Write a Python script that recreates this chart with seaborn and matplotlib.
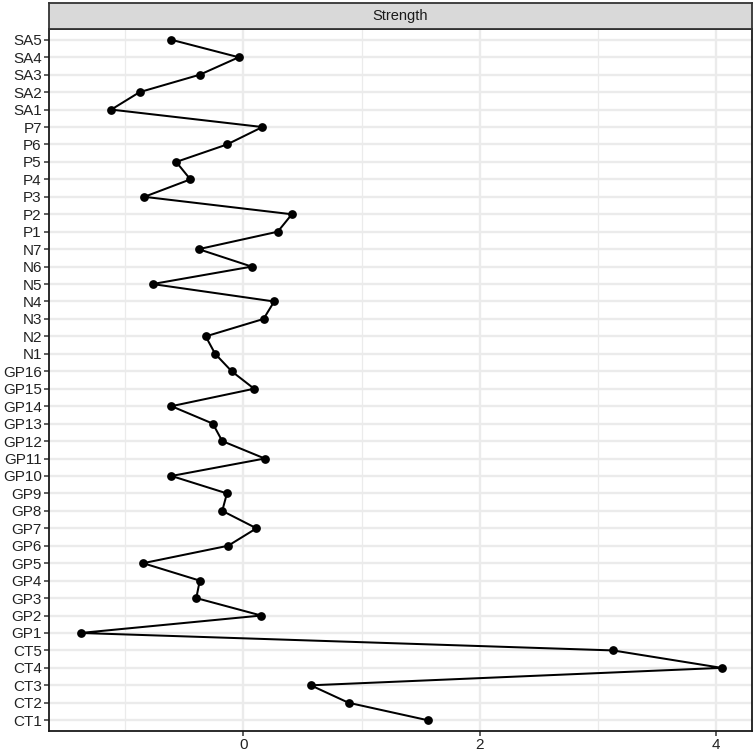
import pandas as pd
import seaborn as sns
import matplotlib.pyplot as plt
from matplotlib.ticker import MultipleLocator

# node names, top to bottom
nodes = ["SA5", "SA4", "SA3", "SA2", "SA1",
         "P7", "P6", "P5", "P4", "P3", "P2", "P1",
         "N7", "N6", "N5", "N4", "N3", "N2", "N1",
         "GP16", "GP15", "GP14", "GP13", "GP12", "GP11", "GP10", "GP9",
         "GP8", "GP7", "GP6", "GP5", "GP4", "GP3", "GP2", "GP1",
         "CT5", "CT4", "CT3", "CT2", "CT1"]

strength = [-0.61, -0.04, -0.37, -0.88, -1.12,
            0.16, -0.14, -0.57, -0.45, -0.84, 0.41, 0.29,
            -0.38, 0.07, -0.77, 0.26, 0.17, -0.32, -0.24,
            -0.10, 0.09, -0.61, -0.26, -0.18, 0.18, -0.61, -0.14,
            -0.18, 0.11, -0.13, -0.85, -0.37, -0.40, 0.15, -1.38,
            3.13, 4.05, 0.57, 0.89, 1.56]

df = pd.DataFrame({"node": nodes, "strength": strength})

sns.set_theme(style="white")
plt.rcParams["font.family"] = ["Liberation Sans", "DejaVu Sans"]

fig = plt.figure(figsize=(7.55, 7.51), dpi=100)
ax = fig.add_axes([0.0645, 0.0266, 0.9319, 0.9348])

sns.pointplot(data=df, x="strength", y="node", order=nodes, color="black",
              markersize=5.2, linewidth=1.45, errorbar=None, ax=ax)

ax.set_xlim(-1.65, 4.31)
ax.set_ylim(len(nodes) - 1 + 0.62, -0.62)
ax.xaxis.set_major_locator(MultipleLocator(2))
ax.xaxis.set_minor_locator(MultipleLocator(1))
ax.set_axisbelow(True)
ax.grid(which="major", color="#EBEBEB", linewidth=1.7)
ax.grid(which="minor", axis="x", color="#EBEBEB", linewidth=0.9)
ax.tick_params(which="minor", length=0)
ax.tick_params(which="major", length=3.5, width=1.1, color="#333333",
               labelsize=11, labelcolor="#222222", pad=1.5,
               left=True, bottom=True)
ax.set_xlabel("")
ax.set_ylabel("")
for s in ax.spines.values():
    s.set_color("#1A1A1A")
    s.set_linewidth(1.3)

# facet strip
sax = fig.add_axes([0.0645, 0.9614, 0.9319, 0.0346])
sax.set_facecolor("#D9D9D9")
sax.set_xticks([])
sax.set_yticks([])
for s in sax.spines.values():
    s.set_color("#333333")
    s.set_linewidth(1.3)
sax.text(0.5, 0.5, "Strength", ha="center", va="center",
         transform=sax.transAxes, fontsize=10.5, color="#1A1A1A")

fig.savefig("out.png", dpi=100)
